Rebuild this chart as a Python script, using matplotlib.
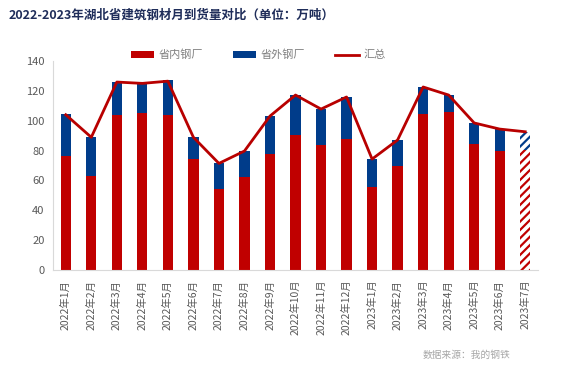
import matplotlib
matplotlib.use("Agg")
import matplotlib.pyplot as plt
import numpy as np

plt.rcParams['font.family'] = ['Noto Sans CJK SC', 'DejaVu Sans']
plt.rcParams['hatch.linewidth'] = 1.6

months = ["2022年1月", "2022年2月", "2022年3月", "2022年4月", "2022年5月", "2022年6月",
          "2022年7月", "2022年8月", "2022年9月", "2022年10月", "2022年11月", "2022年12月",
          "2023年1月", "2023年2月", "2023年3月", "2023年4月", "2023年5月", "2023年6月",
          "2023年7月"]
inner = [76.4, 63.0, 103.8, 105.2, 103.8, 74.3, 54.2, 62.3, 77.7, 90.4, 83.7, 87.7,
         55.6, 69.9, 104.7, 106.1, 84.4, 79.7, 80.4]
outer = [28.1, 25.9, 22.1, 20.3, 23.4, 14.6, 17.2, 17.4, 25.4, 26.8, 24.1, 28.2,
         18.7, 17.2, 17.9, 11.1, 14.1, 14.7, 12.2]
total = [104.0, 88.9, 125.9, 125.0, 126.5, 88.9, 71.4, 79.7, 103.1, 117.2, 107.8, 115.9,
         74.3, 87.1, 122.6, 117.2, 98.5, 94.4, 92.6]

red = "#C00000"
blue = "#003C8A"

fig = plt.figure(figsize=(5.65, 3.65), dpi=100)
ax = fig.add_axes([53 / 565, 95 / 365, 485 / 565, 209 / 365])

x = np.arange(len(months))
n = len(months) - 1  # last month is an estimate, drawn hatched
w = 0.4

b1 = ax.bar(x[:n], inner[:n], w, color=red, label="省内钢厂")
b2 = ax.bar(x[:n], outer[:n], w, bottom=inner[:n], color=blue, label="省外钢厂")
ax.bar(x[n:], inner[n:], w, facecolor="white", edgecolor=red, hatch="////", linewidth=0)
ax.bar(x[n:], outer[n:], w, bottom=inner[n:], facecolor="white", edgecolor=blue,
       hatch="////", linewidth=0)
l1, = ax.plot(x, total, color="#B80000", linewidth=2, label="汇总")

ax.set_xlim(-0.5, len(months) - 0.5)
ax.set_ylim(0, 140)
ax.set_yticks(range(0, 141, 20))
ax.set_xticks(x)
ax.set_xticklabels(months, rotation=90, fontsize=7.5, color="#595959")
ax.tick_params(axis="y", labelsize=8, colors="#595959", length=0, pad=6)
ax.tick_params(axis="x", length=0, pad=7)
for s in ["top", "right"]:
    ax.spines[s].set_visible(False)
ax.spines["left"].set_color("#D9D9D9")
ax.spines["bottom"].set_color("#D9D9D9")

fig.text(9 / 565, 1 - 15 / 365, "2022-2023年湖北省建筑钢材月到货量对比（单位：万吨）",
         fontsize=9, fontweight="bold", color="#1F2D5A", va="center")
fig.legend(handles=[b1, b2, l1], loc="center", bbox_to_anchor=(258 / 565, 1 - 55 / 365),
           ncol=3, frameon=False, fontsize=8, labelcolor="#808080", handlelength=2.1,
           handleheight=0.6, handletextpad=0.4, columnspacing=2.7)
fig.text(510 / 565, 1 - 355 / 365, "数据来源：我的钢铁", fontsize=7, color="#A6A6A6",
         ha="right", va="center")

fig.savefig("out.png", dpi=100)
